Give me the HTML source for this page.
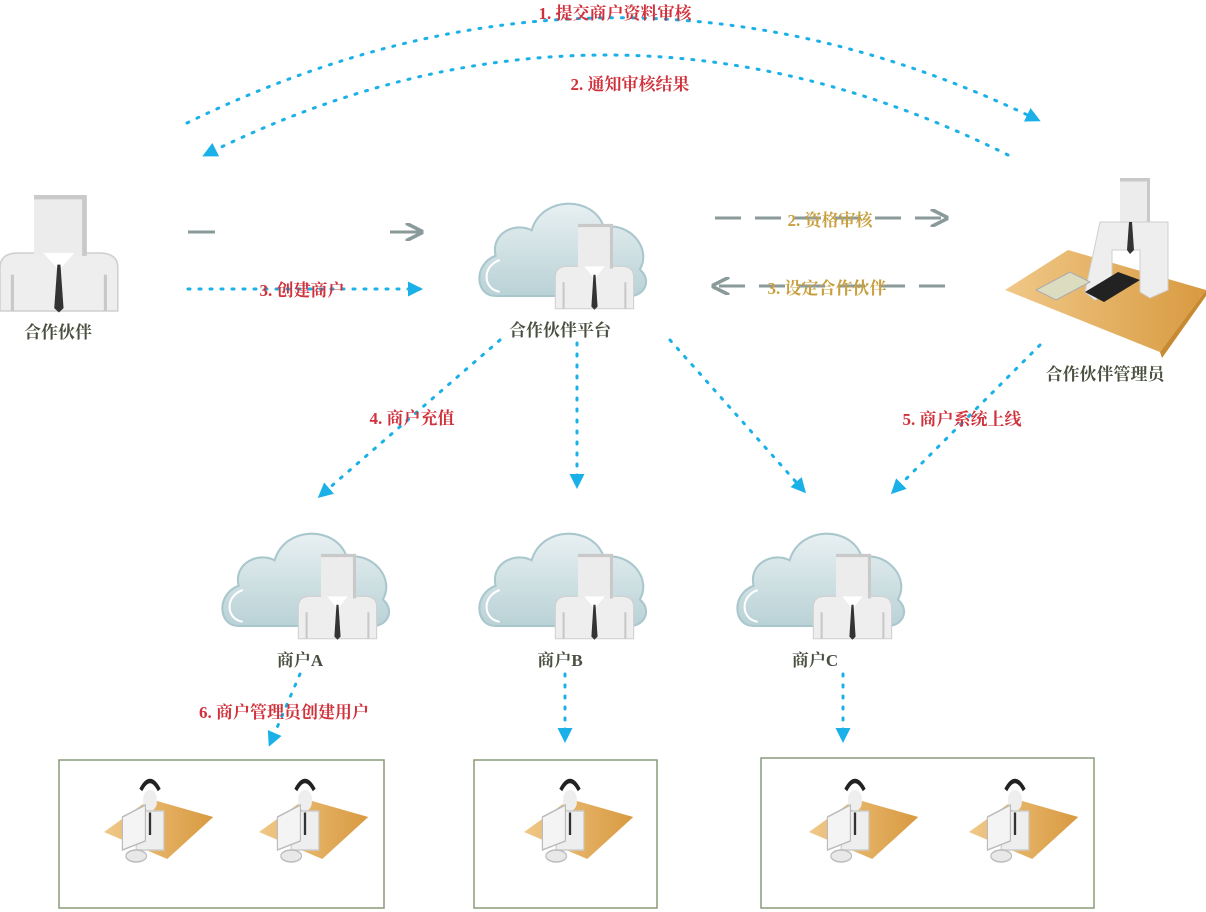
<!DOCTYPE html>
<html><head><meta charset="utf-8"><style>
html,body{margin:0;padding:0;background:#fff;}
svg{display:block;}
text{font-family:"Liberation Serif","Noto Serif CJK SC","Noto Sans CJK SC",serif;font-weight:bold;}
</style></head><body>
<svg width="1206" height="912" viewBox="0 0 1206 912" xmlns="http://www.w3.org/2000/svg">
<defs>
<marker id="ab" viewBox="0 0 10 10" refX="8" refY="5" markerWidth="5" markerHeight="5" orient="auto"><path d="M0,0 L10,5 L0,10 Z" fill="#1ab0e8"/></marker>
<marker id="ag" viewBox="0 0 10 10" refX="8" refY="5" markerWidth="6" markerHeight="6" orient="auto"><path d="M0,0 L10,5 L0,10" fill="none" stroke="#8a9a9a" stroke-width="2"/></marker>
<linearGradient id="cg" x1="0" y1="0" x2="0" y2="1"><stop offset="0" stop-color="#e8f0f2"/><stop offset="1" stop-color="#b9d2d6"/></linearGradient>
<linearGradient id="dg" x1="0" y1="0" x2="1" y2="0"><stop offset="0" stop-color="#f0c888"/><stop offset="1" stop-color="#d89a40"/></linearGradient>
<g id="person">
  <path d="M0,80 L0,50 Q0,40 12,40 L64,40 Q76,40 76,50 L76,80 Z" fill="#eeeeee" stroke="#cfcfcf" stroke-width="1"/>
  <path d="M8,80 L8,55 M68,80 L68,55" stroke="#c8c8c8" stroke-width="2"/>
  <rect x="22" y="0" width="34" height="42" fill="#ececec"/>
  <path d="M22,0 L56,0 L56,42 L53,42 L53,3 L22,3 Z" fill="#c9c9c9"/>
  <path d="M28,40 L38,52 L48,40 Z" fill="#fff"/>
  <path d="M37,48 L39,48 L41,78 L38,81 L35,78 Z" fill="#333"/>
</g>
<g id="cloud">
  <path d="M20,100 C0,100 -2,70 20,62 C15,40 40,30 55,38 C65,5 115,5 125,35 C150,30 172,55 160,75 C172,85 165,100 150,100 Z" fill="url(#cg)" stroke="#a9c7cc" stroke-width="2"/>
  <path d="M24,96 C8,94 6,72 24,66" fill="none" stroke="#fff" stroke-width="2"/>
  <use href="#person" x="78" y="32"/>
</g>
<g id="worker">
  <path d="M0,40 L40,18 L95,30 L55,58 Z" fill="url(#dg)"/>
  <rect x="34" y="12" width="12" height="14" rx="6" fill="#eee"/>
  <path d="M32,12 Q40,0 48,12" fill="none" stroke="#222" stroke-width="3"/>
  <path d="M28,26 L52,26 L52,52 L28,52 Z" fill="#eee" stroke="#ccc"/>
  <path d="M39,27 L41,27 L41,42 L39,42 Z" fill="#333"/>
  <path d="M16,30 L36,22 L36,46 L16,52 Z" fill="#f4f4f4" stroke="#bbb"/>
  <ellipse cx="28" cy="56" rx="9" ry="4" fill="#e8e8e8" stroke="#bbb"/>
</g>
</defs>

<path d="M187,123 Q614,-86 1038,120" fill="none" stroke="#1ab0e8" stroke-width="3" stroke-dasharray="2,9" stroke-linecap="round" marker-end="url(#ab)"/>
<path d="M1008,155 Q606,-45 205,155" fill="none" stroke="#1ab0e8" stroke-width="3" stroke-dasharray="2,9" stroke-linecap="round" marker-end="url(#ab)"/>
<text x="615" y="19" font-size="17" fill="#d0323c" text-anchor="middle">1. 提交商户资料审核</text>
<text x="630" y="90" font-size="17" fill="#d0323c" text-anchor="middle">2. 通知审核结果</text>

<g transform="translate(0,195) scale(1.55,1.45)"><use href="#person"/></g>
<text x="58" y="338" font-size="17" fill="#4a5040" text-anchor="middle">合作伙伴</text>

<line x1="188" y1="232" x2="215" y2="232" stroke="#8a9a9a" stroke-width="3"/>
<line x1="390" y1="232" x2="420" y2="232" stroke="#8a9a9a" stroke-width="3" marker-end="url(#ag)"/>
<line x1="188" y1="289" x2="420" y2="289" stroke="#1ab0e8" stroke-width="3" stroke-dasharray="2,9" stroke-linecap="round" marker-end="url(#ab)"/>
<text x="302" y="296" font-size="17" fill="#d0323c" text-anchor="middle">3. 创建商户</text>

<g transform="translate(475,190) scale(1.03,1.06)"><use href="#cloud"/></g>
<text x="560" y="336" font-size="17" fill="#4a5040" text-anchor="middle">合作伙伴平台</text>

<line x1="715" y1="218" x2="945" y2="218" stroke="#8a9a9a" stroke-width="3" stroke-dasharray="26,14" marker-end="url(#ag)"/>
<text x="830" y="226" font-size="17" fill="#c8a040" text-anchor="middle">2. 资格审核</text>
<line x1="945" y1="286" x2="715" y2="286" stroke="#8a9a9a" stroke-width="3" stroke-dasharray="26,14" marker-end="url(#ag)"/>
<text x="827" y="294" font-size="17" fill="#c8a040" text-anchor="middle">3. 设定合作伙伴</text>

<path d="M1005,290 L1068,250 L1206,290 L1160,352 Z" fill="url(#dg)"/>
<path d="M1160,352 L1206,290 L1206,296 L1162,358 Z" fill="#c88a30"/>
<g transform="translate(1098,178) scale(1,1.15)"><rect x="22" y="0" width="30" height="38" fill="#ececec"/><path d="M22,0 L52,0 L52,38 L49,38 L49,3 L22,3 Z" fill="#c9c9c9"/></g>
<path d="M1100,222 L1168,222 L1168,290 L1150,298 L1140,292 L1140,250 L1112,250 L1112,290 L1095,300 L1085,292 Z" fill="#eeeeee" stroke="#cfcfcf"/>
<path d="M1129,222 L1132,222 L1134,250 L1130,254 L1127,250 Z" fill="#333"/>
<path d="M1036,290 L1070,272 L1090,282 L1056,300 Z" fill="#dcdcc0" stroke="#aaa"/>
<path d="M1085,292 L1118,272 L1140,280 L1104,302 Z" fill="#222"/>
<text x="1105" y="380" font-size="17" fill="#4a5040" text-anchor="middle">合作伙伴管理员</text>

<line x1="500" y1="340" x2="320" y2="496" stroke="#1ab0e8" stroke-width="3" stroke-dasharray="2,9" stroke-linecap="round" marker-end="url(#ab)"/>
<line x1="577" y1="343" x2="577" y2="486" stroke="#1ab0e8" stroke-width="3" stroke-dasharray="2,9" stroke-linecap="round" marker-end="url(#ab)"/>
<line x1="670" y1="340" x2="804" y2="491" stroke="#1ab0e8" stroke-width="3" stroke-dasharray="2,9" stroke-linecap="round" marker-end="url(#ab)"/>
<line x1="1040" y1="345" x2="893" y2="492" stroke="#1ab0e8" stroke-width="3" stroke-dasharray="2,9" stroke-linecap="round" marker-end="url(#ab)"/>
<text x="412" y="424" font-size="17" fill="#d0323c" text-anchor="middle">4. 商户充值</text>
<text x="962" y="425" font-size="17" fill="#d0323c" text-anchor="middle">5. 商户系统上线</text>

<g transform="translate(218,520) scale(1.03,1.06)"><use href="#cloud"/></g>
<g transform="translate(475,520) scale(1.03,1.06)"><use href="#cloud"/></g>
<g transform="translate(733,520) scale(1.03,1.06)"><use href="#cloud"/></g>
<text x="300" y="666" font-size="17" fill="#4a5040" text-anchor="middle">商户A</text>
<text x="560" y="666" font-size="17" fill="#4a5040" text-anchor="middle">商户B</text>
<text x="815" y="666" font-size="17" fill="#4a5040" text-anchor="middle">商户C</text>

<line x1="300" y1="674" x2="270" y2="744" stroke="#1ab0e8" stroke-width="3" stroke-dasharray="2,9" stroke-linecap="round" marker-end="url(#ab)"/>
<text x="284" y="718" font-size="17" fill="#d0323c" text-anchor="middle">6. 商户管理员创建用户</text>
<line x1="565" y1="674" x2="565" y2="740" stroke="#1ab0e8" stroke-width="3" stroke-dasharray="2,9" stroke-linecap="round" marker-end="url(#ab)"/>
<line x1="843" y1="674" x2="843" y2="740" stroke="#1ab0e8" stroke-width="3" stroke-dasharray="2,9" stroke-linecap="round" marker-end="url(#ab)"/>

<rect x="59" y="760" width="325" height="148" fill="none" stroke="#8a9a78" stroke-width="1.5"/>
<rect x="474" y="760" width="183" height="148" fill="none" stroke="#8a9a78" stroke-width="1.5"/>
<rect x="761" y="758" width="333" height="150" fill="none" stroke="#8a9a78" stroke-width="1.5"/>
<g transform="translate(104,772) scale(1.15,1.5)"><use href="#worker"/></g>
<g transform="translate(259,772) scale(1.15,1.5)"><use href="#worker"/></g>
<g transform="translate(524,772) scale(1.15,1.5)"><use href="#worker"/></g>
<g transform="translate(809,772) scale(1.15,1.5)"><use href="#worker"/></g>
<g transform="translate(969,772) scale(1.15,1.5)"><use href="#worker"/></g>
</svg>
</body></html>
